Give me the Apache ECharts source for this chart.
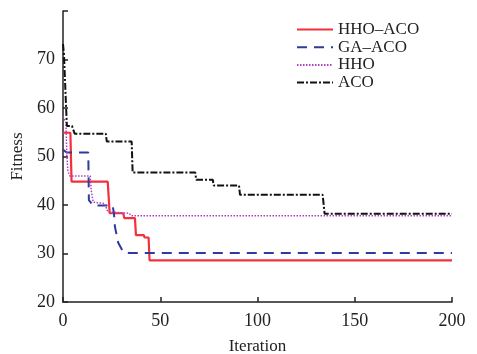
<!DOCTYPE html>
<html>
<head>
<meta charset="utf-8">
<script src="https://cdn.jsdelivr.net/npm/echarts@6/dist/echarts.min.js"></script>
<style>
  html, body { margin: 0; padding: 0; background: #fff; }
  #chart { width: 477px; height: 354px; }
</style>
</head>
<body>
<div id="chart"></div>
<script>
const seriesNames = ['HHO–ACO', 'GA–ACO', 'HHO', 'ACO'];

const hhoAcoIter = [0, 3.8, 4.4, 23, 24, 31, 31.5, 37, 37.5, 41.5, 42, 44, 44.5, 200];
const hhoAcoFit = [54.9, 54.9, 44.8, 44.8, 38.3, 38.3, 37.3, 37.3, 33.8, 33.8, 33.3, 33.3, 28.6, 28.6];

const gaAcoIter = [0, 2, 13, 13.3, 15.5, 25.5, 26.2, 26.7, 28.4, 31, 34, 200];
const gaAcoFit = [51.4, 50.8, 50.8, 41, 39.9, 39.9, 38.3, 35.5, 32.2, 30.3, 30.1, 30.1];

const hhoIter = [0, 1.5, 2, 2.5, 3.5, 14, 14.5, 15.5, 21.5, 23, 24, 34, 35, 200];
const hhoFit = [58.3, 57, 50, 47, 46, 46, 43, 40.6, 40.3, 38.6, 38.3, 38.3, 37.8, 37.8];

const acoIter = [0, 0.5, 1, 1.5, 2, 4.6, 6, 22, 22.5, 35.3, 35.8, 68, 68.5, 77, 77.5, 90.5, 91, 133.5, 134.5, 200];
const acoFit = [73.2, 71, 66, 61, 56.3, 56.3, 54.7, 54.7, 53.1, 53.1, 46.7, 46.7, 45.2, 45.2, 44, 44, 42.1, 42.1, 38.2, 38.2];

const xTicks = [0, 50, 100, 150, 200];
const yTicks = [20, 30, 40, 50, 60, 70];

const zip = (xs, ys) => xs.map((x, i) => [x, ys[i]]);

const chart = echarts.init(document.getElementById('chart'));
const font = 'Liberation Serif';
const ink = '#222';

const line = (name, xs, ys, color, type, width) => ({
  name: name,
  type: 'line',
  symbol: 'none',
  data: zip(xs, ys),
  lineStyle: { color: color, type: type, width: width },
  itemStyle: { color: color },
  z: 3
});

chart.setOption({
  animation: false,
  backgroundColor: '#fff',
  grid: { left: 63, right: 25, top: 11, bottom: 52, containLabel: false, outerBoundsMode: 'none' },
  legend: {
    orient: 'vertical',
    left: 291,
    top: 16,
    itemWidth: 36,
    itemHeight: 10,
    itemGap: 0.7,
    itemStyle: { opacity: 0 },
    textStyle: { fontFamily: font, fontSize: 17, color: ink, lineHeight: 17 },
    data: seriesNames
  },
  xAxis: {
    type: 'value',
    min: 0,
    max: 200,
    interval: 50,
    name: 'Iteration',
    nameLocation: 'middle',
    nameGap: 36,
    nameTextStyle: { fontFamily: font, fontSize: 17, color: ink },
    axisLine: { lineStyle: { color: ink, width: 1.5 } },
    axisTick: { inside: true, length: 5, lineStyle: { color: ink, width: 1.5 } },
    axisLabel: {
      fontFamily: font, fontSize: 18, color: ink, margin: 10,
      formatter: v => xTicks.includes(v) ? String(v) : ''
    },
    splitLine: { show: false }
  },
  yAxis: {
    type: 'value',
    min: 20,
    max: 80,
    interval: 10,
    name: 'Fitness',
    nameLocation: 'middle',
    nameGap: 35,
    nameTextStyle: { fontFamily: font, fontSize: 17, color: ink },
    axisLine: { show: true, lineStyle: { color: ink, width: 1.5 } },
    axisTick: { show: true, inside: true, length: 5, lineStyle: { color: ink, width: 1.5 } },
    axisLabel: {
      fontFamily: font, fontSize: 18, color: ink, margin: 8,
      formatter: v => yTicks.includes(v) ? String(v) : ''
    },
    splitLine: { show: false }
  },
  series: [
    line(seriesNames[0], hhoAcoIter, hhoAcoFit, '#f2303c', 'solid', 2.2),
    line(seriesNames[1], gaAcoIter, gaAcoFit, '#2e3b9c', [10, 7], 2),
    line(seriesNames[2], hhoIter, hhoFit, '#b43cc4', [1.5, 1.5], 1.5),
    line(seriesNames[3], acoIter, acoFit, '#111', [7, 2, 2, 2], 2)
  ]
});
</script>
</body>
</html>
